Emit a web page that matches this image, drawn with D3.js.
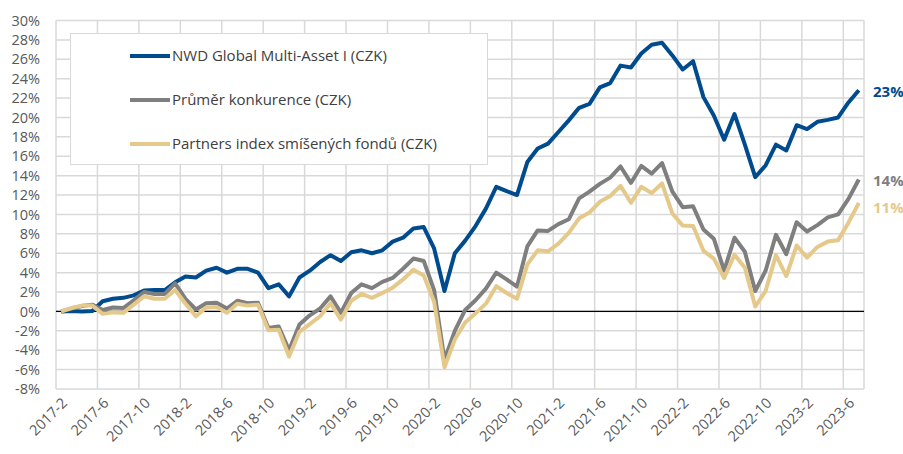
<!DOCTYPE html>
<html lang="cs">
    <head>
        <meta charset="utf-8">
        <title>NWD Global Multi-Asset</title>
        <script type="text/javascript" src="https://d3js.org/d3.v7.min.js"></script>
        <style type="text/css">
            body {
                margin: 0;
                background: white;
            }
            svg {
                font-family: "Open Sans", sans-serif;
            }
        </style>
    </head>
    <body>
        <script type="text/javascript">

        // months 2017-2 .. 2023-7
        const months = [
            "2017-2","2017-3","2017-4","2017-5","2017-6","2017-7","2017-8","2017-9","2017-10","2017-11","2017-12",
            "2018-1","2018-2","2018-3","2018-4","2018-5","2018-6","2018-7","2018-8","2018-9","2018-10","2018-11","2018-12",
            "2019-1","2019-2","2019-3","2019-4","2019-5","2019-6","2019-7","2019-8","2019-9","2019-10","2019-11","2019-12",
            "2020-1","2020-2","2020-3","2020-4","2020-5","2020-6","2020-7","2020-8","2020-9","2020-10","2020-11","2020-12",
            "2021-1","2021-2","2021-3","2021-4","2021-5","2021-6","2021-7","2021-8","2021-9","2021-10","2021-11","2021-12",
            "2022-1","2022-2","2022-3","2022-4","2022-5","2022-6","2022-7","2022-8","2022-9","2022-10","2022-11","2022-12",
            "2023-1","2023-2","2023-3","2023-4","2023-5","2023-6","2023-7"
        ];

        const nwd = [
            0, 0.05, 0.0, 0.05, 1.05, 1.3, 1.4, 1.65, 2.15, 2.2, 2.2,
            3.0, 3.6, 3.5, 4.2, 4.5, 4.0, 4.4, 4.4, 4.0, 2.4, 2.8, 1.55,
            3.5, 4.2, 5.1, 5.8, 5.2, 6.1, 6.3, 6.0, 6.3, 7.2, 7.6, 8.55,
            8.7, 6.5, 2.1, 6.0, 7.3, 8.8, 10.6, 12.85, 12.4, 12.0, 15.4, 16.8,
            17.3, 18.5, 19.7, 21.0, 21.4, 23.1, 23.55, 25.35, 25.15, 26.6, 27.5, 27.7,
            26.4, 24.95, 25.8, 22.1, 20.2, 17.7, 20.35, 17.2, 13.85, 15.05, 17.2, 16.6,
            19.2, 18.8, 19.55, 19.75, 20.0, 21.55, 22.8
        ];

        const prumer = [
            0, 0.3, 0.55, 0.7, 0.15, 0.4, 0.35, 1.15, 2.0, 1.8, 1.8,
            2.9, 1.3, 0.2, 0.85, 0.9, 0.3, 1.1, 0.85, 0.9, -1.7, -1.55, -4.0,
            -1.35, -0.4, 0.3, 1.55, -0.15, 1.9, 2.8, 2.4, 3.05, 3.45, 4.4, 5.45,
            5.2, 2.2, -5.0, -2.0, 0.15, 1.15, 2.35, 4.0, 3.3, 2.55, 6.7, 8.35,
            8.3, 9.0, 9.5, 11.65, 12.35, 13.15, 13.8, 14.95, 13.25, 15.0, 14.2, 15.3,
            12.35, 10.75, 10.85, 8.45, 7.5, 4.2, 7.6, 6.15, 2.1, 4.2, 7.9, 5.9,
            9.2, 8.25, 8.9, 9.7, 10.0, 11.6, 13.6
        ];

        const partners = [
            0, 0.35, 0.6, 0.6, -0.25, -0.1, -0.15, 0.7, 1.55, 1.3, 1.3,
            2.2, 0.8, -0.5, 0.4, 0.45, -0.15, 0.8, 0.6, 0.7, -1.95, -1.9, -4.65,
            -2.1, -1.3, -0.5, 0.85, -0.85, 1.1, 1.8, 1.4, 1.9, 2.45, 3.3, 4.3,
            3.7, 1.0, -5.75, -2.9, -1.15, -0.2, 0.8, 2.6, 1.9, 1.3, 4.85, 6.3,
            6.2, 7.0, 8.1, 9.6, 10.2, 11.3, 11.9, 12.95, 11.2, 12.85, 12.2, 13.2,
            10.1, 8.85, 8.8, 6.25, 5.45, 3.45, 5.85, 4.5, 0.5, 2.1, 5.8, 3.65,
            6.8, 5.55, 6.65, 7.2, 7.35, 9.15, 11.2
        ];

        const seriesNames = ["NWD Global Multi-Asset I (CZK)", "Průměr konkurence (CZK)", "Partners index smíšených fondů (CZK)"];
        const endLabels = ["23%", "14%", "11%"];
        const colors = ["#004b8d", "#7f7f7f", "#e5c98a"];
        const yTicks = [-8, -6, -4, -2, 0, 2, 4, 6, 8, 10, 12, 14, 16, 18, 20, 22, 24, 26, 28, 30];

        const width = 903;
        const height = 454;
        const plotLeft = 56, plotRight = 864, plotTop = 20.5, plotBottom = 389;

        const x = d3.scaleBand()
                    .domain(months)
                    .range([plotLeft, plotRight]);

        const y = d3.scaleLinear()
                    .domain([-8, 30])
                    .range([plotBottom, plotTop]);

        const cx = d => x(d) + x.bandwidth() / 2;

        const svg = d3.select("body")
                    .append("svg")
                    .attr("width", width)
                    .attr("height", height);

        // horizontal grid
        svg.append("g")
            .selectAll("line")
            .data(yTicks)
            .enter()
            .append("line")
            .attr("x1", plotLeft)
            .attr("x2", plotRight)
            .attr("y1", d => y(d))
            .attr("y2", d => y(d))
            .attr("stroke", "#d9d9d9")
            .attr("stroke-width", 1.5);

        // vertical grid, every 4 months + right border
        const vLines = months.filter((m, i) => i % 4 === 0).map(m => x(m)).concat([plotRight]);
        svg.append("g")
            .selectAll("line")
            .data(vLines)
            .enter()
            .append("line")
            .attr("x1", d => d)
            .attr("x2", d => d)
            .attr("y1", plotTop)
            .attr("y2", plotBottom)
            .attr("stroke", "#d9d9d9")
            .attr("stroke-width", 1.5);

        // zero line
        svg.append("line")
            .attr("x1", plotLeft)
            .attr("x2", plotRight)
            .attr("y1", y(0))
            .attr("y2", y(0))
            .attr("stroke", "black")
            .attr("stroke-width", 1.3);

        // left axis
        const leftAxis = d3.axisLeft(y)
                    .tickValues(yTicks)
                    .tickSize(0)
                    .tickPadding(16)
                    .tickFormat(d => d + "%");

        svg.append("g")
            .attr("transform", "translate(" + plotLeft + ",0)")
            .call(leftAxis)
            .call(g => g.select(".domain").remove())
            .selectAll("text")
            .attr("fill", "#595959")
            .style("font-size", "14.5px")
            .style("font-family", "Open Sans");

        // bottom axis
        const bottomAxis = d3.axisBottom(x)
                    .tickValues(months.filter((m, i) => i % 4 === 0))
                    .tickSize(0);

        svg.append("g")
            .attr("transform", "translate(0," + plotBottom + ")")
            .call(bottomAxis)
            .call(g => g.select(".domain").remove())
            .selectAll("text")
            .attr("fill", "#595959")
            .attr("y", 0)
            .attr("dy", 0)
            .attr("text-anchor", "end")
            .attr("transform", "translate(7,15) rotate(-45)")
            .style("font-size", "14.5px")
            .style("font-family", "Open Sans");

        // lines
        const allSeries = [nwd, prumer, partners];
        const line = d3.line()
                    .x((d, i) => cx(months[i]))
                    .y(d => y(d));

        svg.append("g")
            .selectAll("path")
            .data(allSeries)
            .enter()
            .append("path")
            .attr("d", d => line(d))
            .attr("fill", "none")
            .attr("stroke", (d, i) => colors[i])
            .attr("stroke-width", 4)
            .attr("stroke-linejoin", "round");

        // end labels
        const labelShift = [1, 1, 5];
        svg.append("g")
            .selectAll("text")
            .data(allSeries)
            .enter()
            .append("text")
            .attr("x", 873)
            .attr("y", (d, i) => y(d[d.length - 1]) + labelShift[i])
            .attr("dy", "0.35em")
            .attr("fill", (d, i) => colors[i])
            .style("font-size", "15px")
            .style("font-weight", "bold")
            .text((d, i) => endLabels[i]);

        // legend
        const legend = svg.append("g");
        legend.append("rect")
            .attr("x", 70.5)
            .attr("y", 33.5)
            .attr("width", 417)
            .attr("height", 131)
            .attr("fill", "white")
            .attr("stroke", "#d9d9d9")
            .attr("stroke-width", 1);

        const rows = legend.selectAll("g.row")
            .data(seriesNames)
            .enter()
            .append("g")
            .attr("class", "row")
            .attr("transform", (d, i) => "translate(130," + (56 + i * 44) + ")");

        rows.append("line")
            .attr("x1", 0)
            .attr("x2", 40)
            .attr("stroke", (d, i) => colors[i])
            .attr("stroke-width", 4);

        rows.append("text")
            .attr("x", 42)
            .attr("dy", "0.35em")
            .attr("fill", "#404040")
            .style("font-size", "15px")
            .text(d => d);

        </script>
    </body>
</html>
